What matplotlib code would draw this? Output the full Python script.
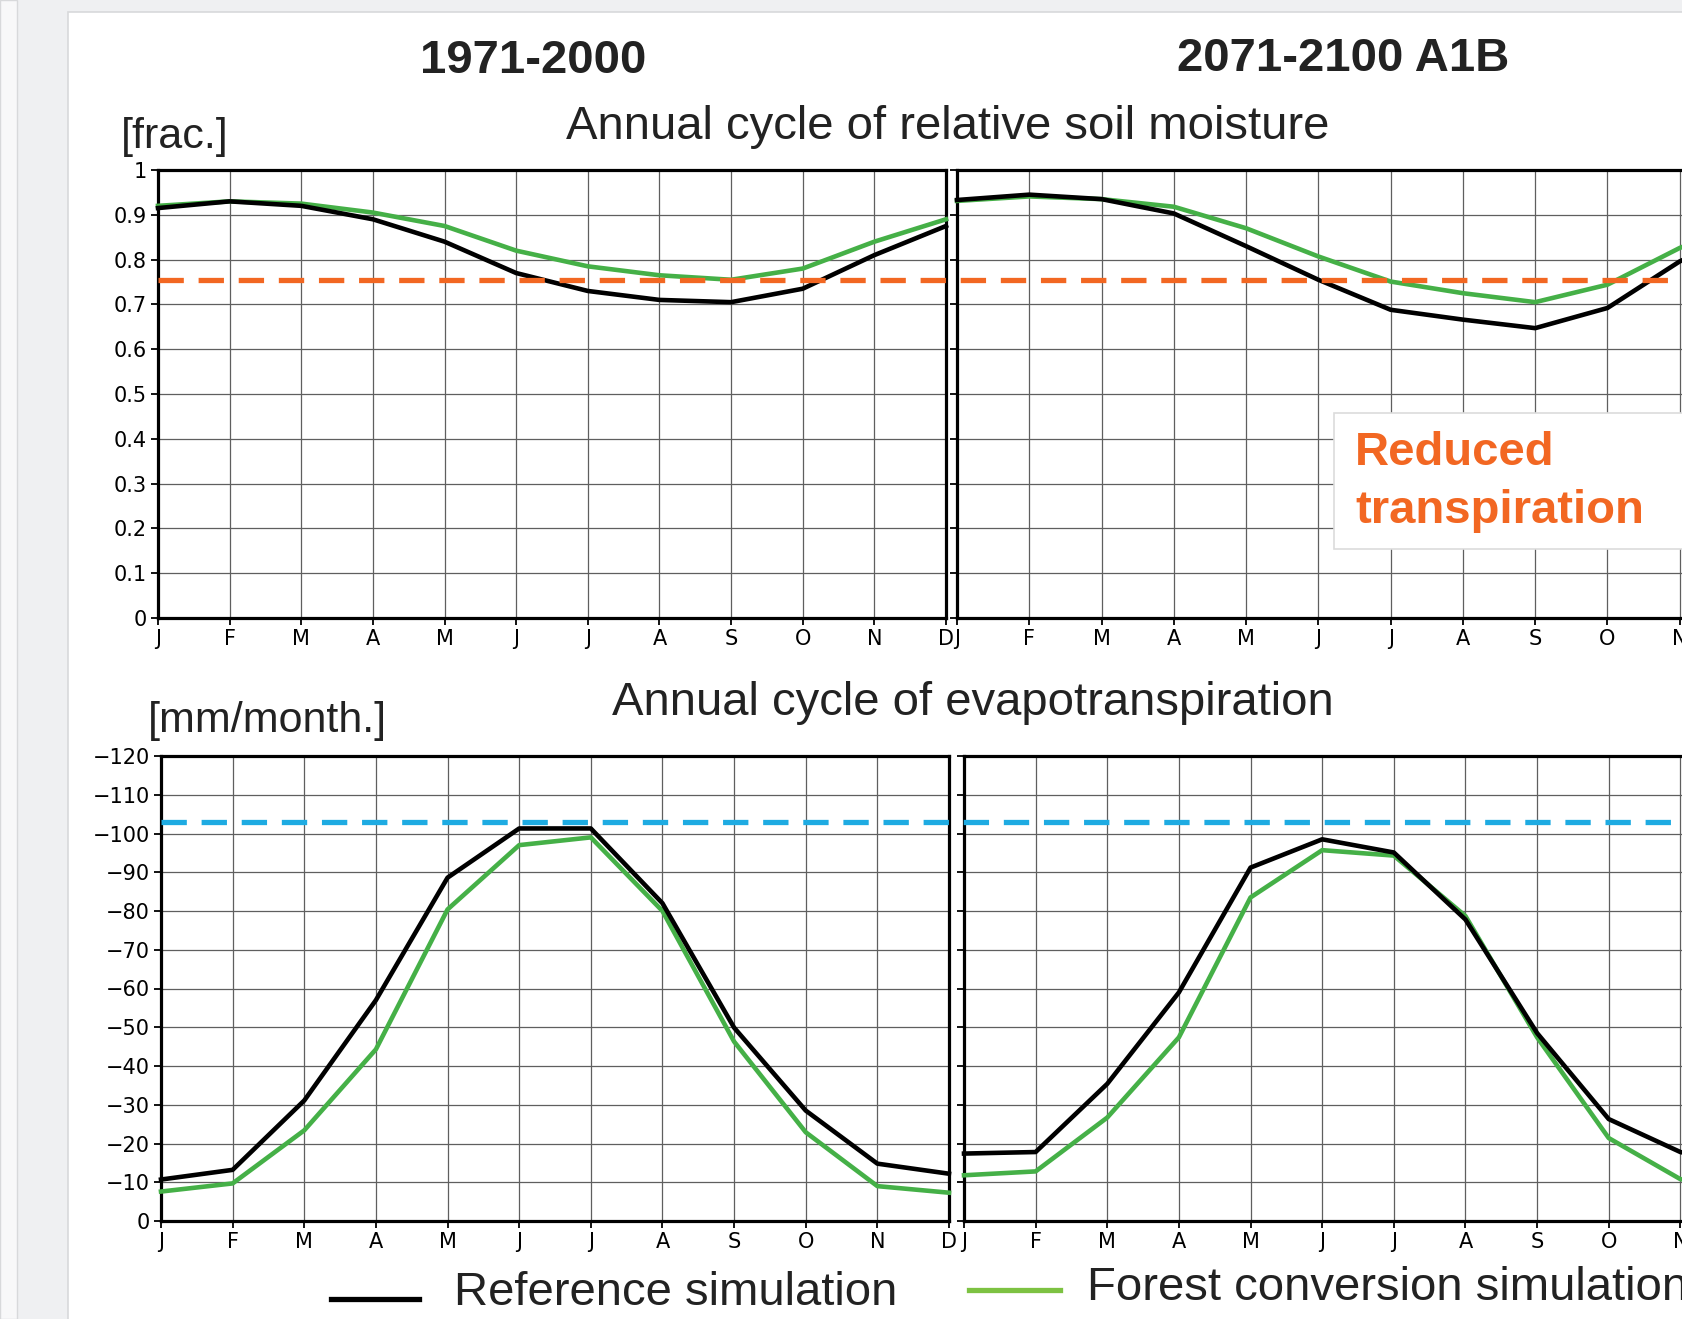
import matplotlib.pyplot as plt
import matplotlib.transforms as mtransforms
from matplotlib.patches import Rectangle
from matplotlib.lines import Line2D

months = ["J", "F", "M", "A", "M", "J", "J", "A", "S", "O", "N", "D"]

# relative soil moisture [frac.]
sm_ref_hist = [0.915, 0.93, 0.92, 0.89, 0.84, 0.77, 0.73, 0.71, 0.705, 0.735, 0.81, 0.875]
sm_for_hist = [0.92, 0.93, 0.925, 0.905, 0.875, 0.82, 0.785, 0.765, 0.755, 0.78, 0.84, 0.89]
sm_ref_fut = [0.933, 0.945, 0.935, 0.903, 0.83, 0.755, 0.688, 0.666, 0.647, 0.692, 0.796, 0.87]
sm_for_fut = [0.931, 0.941, 0.935, 0.918, 0.87, 0.807, 0.751, 0.725, 0.705, 0.744, 0.826, 0.89]
sm_level = 0.755
sm_ticks = [0, 0.1, 0.2, 0.3, 0.4, 0.5, 0.6, 0.7, 0.8, 0.9, 1.0]
sm_ticklabels = ["0", "0.1", "0.2", "0.3", "0.4", "0.5", "0.6", "0.7", "0.8", "0.9", "1"]

# evapotranspiration [mm/month.]
et_ref_hist = [-10.7, -13.2, -31.1, -57.0, -88.6, -101.3, -101.3, -82.0, -49.9, -28.5, -14.8, -12.2]
et_for_hist = [-7.6, -9.7, -23.4, -44.3, -80.4, -97.0, -99.0, -80.0, -46.3, -22.9, -9.0, -7.3]
et_ref_fut = [-17.4, -17.8, -35.4, -59.0, -91.2, -98.5, -95.1, -77.8, -48.5, -26.3, -17.8, -14.0]
et_for_fut = [-11.8, -12.8, -26.7, -47.4, -83.5, -95.7, -94.3, -78.7, -47.4, -21.4, -10.8, -8.0]
et_level = -103
et_ticks = [0, -10, -20, -30, -40, -50, -60, -70, -80, -90, -100, -110, -120]
et_ticklabels = ["0"] + ["\u2212%d" % v for v in range(10, 130, 10)]

W, H = 1683, 1319
GREEN = "#45b047"
ORANGE = "#f26722"
BLUE = "#1eabe2"
TXT = "#222222"
plt.rcParams["font.family"] = ["Liberation Sans", "DejaVu Sans"]
NARROW = ["Liberation Sans Narrow", "DejaVu Sans"]


def fx(px):
    return px / W


def fy(py):
    return 1 - py / H


def box(x0, y0, x1, y1):
    # pixel box (top-left origin) -> figure rect
    return [fx(x0), fy(y1), fx(x1) - fx(x0), fy(y0) - fy(y1)]


fig = plt.figure(figsize=(W / 100, H / 100), dpi=100)
fig.patch.set_facecolor("#eff0f2")
fig.add_artist(Rectangle((0, 0), fx(17), 1, transform=fig.transFigure,
                         facecolor="#f8f8f9", edgecolor="#d8d9db", lw=1, zorder=-2))
fig.add_artist(Rectangle((fx(68), -0.01), 1, fy(12) + 0.01, transform=fig.transFigure,
                         facecolor="white", edgecolor="#d8d9db", lw=1.2, zorder=-1))


def panel(rect, ref, forest, ticks, labels, ylim, show_labels):
    ax = fig.add_axes(rect)
    ax.set_facecolor("none")
    x = list(range(12))
    ax.plot(x, forest, color=GREEN, lw=3.3, zorder=3, clip_on=False)
    ax.plot(x, ref, color="black", lw=3.3, zorder=4, clip_on=False)
    ax.set_xlim(0, 11)
    ax.set_ylim(*ylim)
    ax.set_xticks(x)
    ax.set_xticklabels(months, family=NARROW, fontsize=15)
    ax.set_yticks(ticks)
    ax.set_yticklabels(labels, family=NARROW, fontsize=15)
    ax.tick_params(direction="out", length=5, width=1.3, pad=3, labelleft=show_labels)
    ax.grid(True, color="#5f5f5f", lw=0.9)
    for s in ax.spines.values():
        s.set_linewidth(2.3)
    return ax


ax1 = panel(box(158, 170, 946, 618), sm_ref_hist, sm_for_hist, sm_ticks, sm_ticklabels, (0, 1), True)
ax2 = panel(box(957, 170, 1752, 618), sm_ref_fut, sm_for_fut, sm_ticks, sm_ticklabels, (0, 1), False)
ax3 = panel(box(161, 756, 949, 1221), et_ref_hist, et_for_hist, et_ticks, et_ticklabels, (0, -120), True)
ax4 = panel(box(964, 756, 1752, 1221), et_ref_fut, et_for_fut, et_ticks, et_ticklabels, (0, -120), False)

# threshold lines running across both panels
tr1 = mtransforms.blended_transform_factory(fig.transFigure, ax1.transData)
fig.add_artist(Line2D([fx(158), 1.0], [sm_level, sm_level], transform=tr1,
                      color=ORANGE, lw=3.8, dashes=(4.8, 2.8), zorder=2))
tr3 = mtransforms.blended_transform_factory(fig.transFigure, ax3.transData)
fig.add_artist(Line2D([fx(161), 1.0], [et_level, et_level], transform=tr3,
                      color=BLUE, lw=3.8, dashes=(4.8, 2.8), zorder=2))

# annotation box
fig.add_artist(Rectangle((fx(1334), fy(549)), 1, fy(413) - fy(549), transform=fig.transFigure,
                         facecolor="white", edgecolor="#dcdcdc", lw=1.2, zorder=1.5))
fig.text(fx(1355), fy(453), "Reduced", color=ORANGE, fontsize=34, fontweight="bold",
         ha="left", va="center", zorder=3)
fig.text(fx(1355), fy(511), "transpiration", color=ORANGE, fontsize=34, fontweight="bold",
         ha="left", va="center", zorder=3)

# titles
fig.text(fx(533), fy(61), "1971-2000", fontsize=34, fontweight="bold", color=TXT, ha="center", va="center")
fig.text(fx(1343), fy(59), "2071-2100 A1B", fontsize=34, fontweight="bold", color=TXT, ha="center", va="center")
fig.text(fx(948), fy(127), "Annual cycle of relative soil moisture", fontsize=34, color=TXT,
         ha="center", va="center")
fig.text(fx(121), fy(137), "[frac.]", fontsize=31, color=TXT, ha="left", va="center")
fig.text(fx(973), fy(703), "Annual cycle of evapotranspiration", fontsize=34, color=TXT,
         ha="center", va="center")
fig.text(fx(148), fy(721), "[mm/month.]", fontsize=31, color=TXT, ha="left", va="center")

# legend
fig.add_artist(Line2D([fx(331), fx(419)], [fy(1299), fy(1299)], transform=fig.transFigure,
                      color="black", lw=3.8))
fig.text(fx(454), fy(1293), "Reference simulation", fontsize=34, color=TXT, ha="left", va="center")
fig.add_artist(Line2D([fx(969), fx(1060)], [fy(1290), fy(1290)], transform=fig.transFigure,
                      color="#7dc242", lw=3.8))
fig.text(fx(1087), fy(1288), "Forest conversion simulation", fontsize=34, color=TXT,
         ha="left", va="center")

fig.savefig("out.png", dpi=100, facecolor=fig.get_facecolor())
